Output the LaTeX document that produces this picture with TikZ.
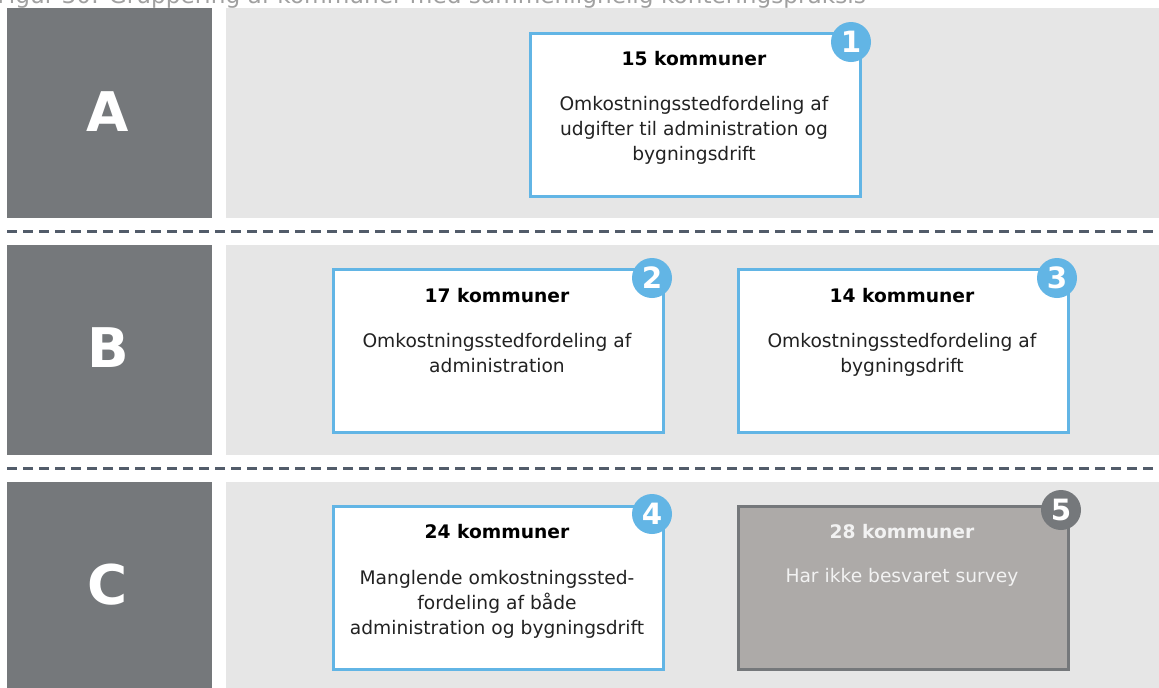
\documentclass[tikz,border=0pt]{standalone}
\usepackage{fontspec}
\setmainfont{DejaVu Sans}
\definecolor{sidegray}{HTML}{75787B}
\definecolor{panelgray}{HTML}{E6E6E6}
\definecolor{boxblue}{HTML}{62B5E5}
\definecolor{dashgray}{HTML}{525C6A}
\definecolor{greyfill}{HTML}{ADAAA8}
\definecolor{greytext}{HTML}{F2F2F2}
\definecolor{headgray}{HTML}{A0A0A0}
\definecolor{bodytext}{HTML}{222222}
\tikzset{
  sidebar/.style={fill=sidegray, draw=none, inner sep=0pt, anchor=north west, minimum width=153.75pt},
  panelbg/.style={fill=panelgray, draw=none, inner sep=0pt, anchor=north west, minimum width=699.75pt},
  bigletter/.style={text=white, font=\fontsize{41}{41}\selectfont\bfseries},
  infobox/.style={draw=boxblue, line width=2.25pt, fill=white, inner sep=0pt, anchor=north west, minimum width=247.5pt, minimum height=122pt},
  greybox/.style={infobox, draw=sidegray, fill=greyfill},
  badge/.style={circle, fill=boxblue, draw=none, minimum size=30pt, inner sep=0pt, text=white, font=\fontsize{22}{22}\selectfont\bfseries},
  darkbadge/.style={badge, fill=sidegray},
  boxtitle/.style={anchor=base, font=\fontsize{14}{14}\selectfont\bfseries},
  boxbody/.style={anchor=north, align=center, text=bodytext, font=\fontsize{14}{18.75}\selectfont},
  separator/.style={draw=dashgray, line width=2.25pt, dash pattern=on 7.5pt off 4.5pt},
}
\begin{document}
\begin{tikzpicture}[x=0.75pt,y=-0.75pt]
\useasboundingbox (0,0) rectangle (1159,687);
% header (cut off at top)
\node[anchor=base west, inner sep=0pt, text=headgray, font=\fontsize{17.4}{17.4}\selectfont] (head) at (-3,3) {Figur 30: Gruppering af kommuner med sammenlignelig konteringspraksis};
% rows
\node[sidebar, minimum height=157.5pt] (sA) at (7,8) {};
\node[panelbg, minimum height=157.5pt] (pA) at (226,8) {};
\node[sidebar, minimum height=157.5pt] (sB) at (7,245) {};
\node[panelbg, minimum height=157.5pt] (pB) at (226,245) {};
\node[sidebar, minimum height=157.5pt] (sC) at (7,482) {};
\node[panelbg, minimum height=157.5pt] (pC) at (226,482) {};
\node[bigletter] (lA) at (108,112) {A};
\node[bigletter] (lB) at (108,348) {B};
\node[bigletter] (lC) at (108,585) {C};
% separators
\coordinate (d1a) at (7,231);
\coordinate (d1b) at (1159,231);
\coordinate (d2a) at (7,468);
\coordinate (d2b) at (1159,468);
\draw[separator] (d1a) -- (d1b);
\draw[separator] (d2a) -- (d2b);
% box 1
\node[infobox] (b1) at (529,32) {};
\node[boxtitle] (t1) at (694,65) {15 kommuner};
\node[boxbody] (x1) at (694,92) {Omkostningsstedfordeling af\\udgifter til administration og\\bygningsdrift};
\node[badge] (n1) at (851,42) {1};
% box 2
\node[infobox] (b2) at (332,268) {};
\node[boxtitle] (t2) at (497,302) {17 kommuner};
\node[boxbody] (x2) at (497,329) {Omkostningsstedfordeling af\\administration};
\node[badge] (n2) at (652,278) {2};
% box 3
\node[infobox] (b3) at (737,268) {};
\node[boxtitle] (t3) at (902,302) {14 kommuner};
\node[boxbody] (x3) at (902,329) {Omkostningsstedfordeling af\\bygningsdrift};
\node[badge] (n3) at (1057,278) {3};
% box 4
\node[infobox] (b4) at (332,505) {};
\node[boxtitle] (t4) at (497,538) {24 kommuner};
\node[boxbody] (x4) at (497,566) {Manglende omkostningssted-\\fordeling af både\\administration og bygningsdrift};
\node[badge] (n4) at (652,514) {4};
% box 5
\node[greybox] (b5) at (737,505) {};
\node[boxtitle, text=greytext] (t5) at (902,538) {28 kommuner};
\node[boxbody, text=greytext] (x5) at (902,564) {Har ikke besvaret survey};
\node[darkbadge] (n5) at (1061,510) {5};
\end{tikzpicture}
\end{document}
